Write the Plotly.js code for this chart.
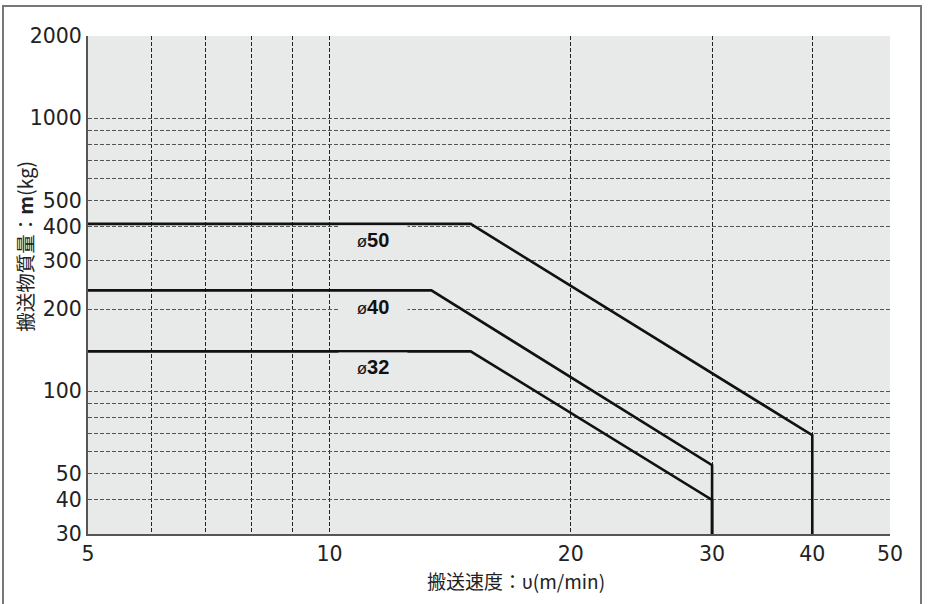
<!DOCTYPE html>
<html>
<head>
<meta charset="utf-8">
<script src="https://cdn.plot.ly/plotly-3.0.1.min.js"></script>
<style>
html,body{margin:0;padding:0;background:#fff;}
#wrap{position:relative;width:928px;height:604px;overflow:hidden;}
#chart{position:absolute;left:0;top:0;width:928px;height:604px;}
#frame{position:absolute;left:2px;top:5px;width:916px;height:620px;border:2px solid #777;pointer-events:none;}
</style>
</head>
<body>
<div id="wrap"><div id="chart"></div><div id="frame"></div></div>
<script>
// Series data (speed m/min, mass kg)
const speed50 = [5, 15, 40, 40];
const mass50  = [410, 410, 69, 30];
const speed40 = [5, 13.4, 30, 30];
const mass40  = [234, 234, 53.6, 30];
const speed32 = [5, 15, 30, 30];
const mass32  = [140, 140, 40, 30];

const seriesLabels = ['50', '40', '32'];
const labelX = [11.34, 11.34, 11.34];
const labelY = [359, 204, 123];

const xTickVals = [5, 6, 7, 8, 9, 10, 20, 30, 40, 50];
const xTickText = ['5', '', '', '', '', '10', '20', '30', '40', '50'];
const yTickVals = [30, 40, 50, 60, 70, 80, 90, 100, 200, 300, 400, 500, 600, 700, 800, 900, 1000, 2000];
const yTickText = ['30', '40', '50', '', '', '', '', '100', '200', '300', '400', '500', '', '', '', '', '1000', '2000'];

const FONT = '"Noto Sans CJK JP", "Noto Sans", sans-serif';
const NUMFONT = '"DejaVu Sans", sans-serif';
const lineStyle = {color: '#111', width: 2.6};

const traces = [
  {x: speed50, y: mass50, mode: 'lines', line: lineStyle, hoverinfo: 'skip'},
  {x: speed40, y: mass40, mode: 'lines', line: lineStyle, hoverinfo: 'skip'},
  {x: speed32, y: mass32, mode: 'lines', line: lineStyle, hoverinfo: 'skip'}
];

const annotations = seriesLabels.map((s, i) => ({
  x: Math.log10(labelX[i]), y: Math.log10(labelY[i]), xref: 'x', yref: 'y',
  text: "<span style='font-size:17px;font-weight:normal'>ø</span><b>" + s + "</b>",
  showarrow: false, xanchor: 'center', yanchor: 'middle',
  font: {family: '"Liberation Sans", Arial, sans-serif', size: 20, color: '#111'},
  bgcolor: '#e8e9e9', width: 66, height: 26
}));

annotations.push({
  xref: 'paper', yref: 'paper', x: -0.0786, y: 0.5787,
  text: '搬送物質量：<b>m</b>(kg)', textangle: -90, showarrow: false,
  xanchor: 'center', yanchor: 'middle',
  font: {family: FONT, size: 19.5, color: '#222'}
});
annotations.push({
  xref: 'paper', yref: 'paper', x: 0.534, y: -0.0929,
  text: '搬送速度：υ(m/min)', showarrow: false,
  xanchor: 'center', yanchor: 'middle',
  font: {family: FONT, size: 19, color: '#222'}
});

const layout = {
  width: 928, height: 604,
  margin: {l: 88, r: 38, t: 36, b: 70},
  paper_bgcolor: '#ffffff', plot_bgcolor: '#e8e9e9',
  showlegend: false,
  font: {family: FONT, size: 20, color: '#222'},
  xaxis: {
    type: 'log', range: [Math.log10(5), Math.log10(50)],
    tickmode: 'array', tickvals: xTickVals, ticktext: xTickText,
    showgrid: true, gridcolor: '#222', griddash: '4px,2px', gridwidth: 1,
    showline: true, linecolor: '#555', linewidth: 2,
    ticks: '', zeroline: false, fixedrange: true,
    tickfont: {family: NUMFONT, size: 20.5, color: '#222'}
  },
  yaxis: {
    type: 'log', range: [Math.log10(30), Math.log10(2000)],
    tickmode: 'array', tickvals: yTickVals, ticktext: yTickText,
    showgrid: true, gridcolor: '#555', griddash: '4px,2px', gridwidth: 1,
    showline: true, linecolor: '#555', linewidth: 2,
    ticks: '', zeroline: false, fixedrange: true,
    tickfont: {family: NUMFONT, size: 20.5, color: '#222'}
  },
  annotations: annotations
};

Plotly.newPlot('chart', traces, layout, {staticPlot: true, displayModeBar: false});
</script>
</body>
</html>
